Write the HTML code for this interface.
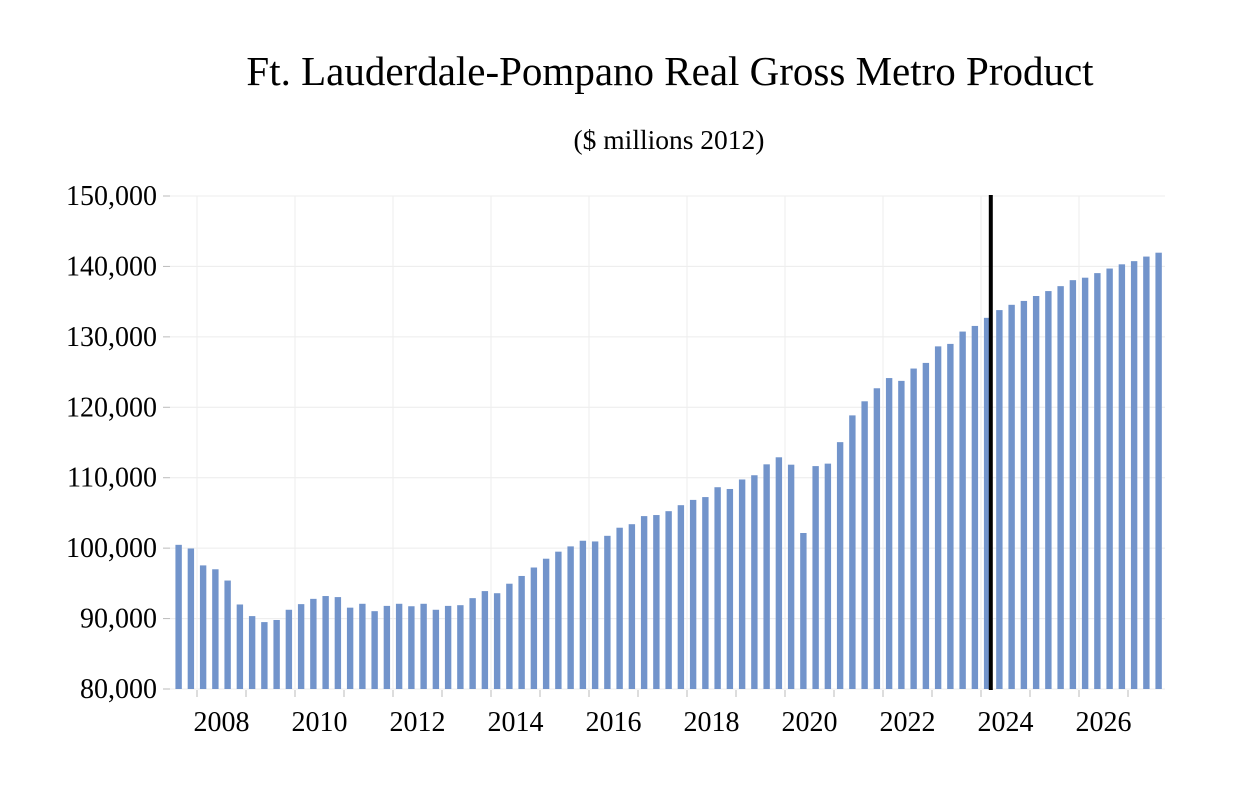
<!DOCTYPE html>
<html><head><meta charset="utf-8"><style>
body{margin:0;background:#fff;}
svg text{font-family:"Liberation Serif",serif;fill:#000;}
</style></head><body>
<svg id="chart" width="1250" height="790" xmlns="http://www.w3.org/2000/svg">
<text x="670" y="85" font-size="41" text-anchor="middle">Ft. Lauderdale-Pompano Real Gross Metro Product</text>
<text x="669" y="149" font-size="27.5" text-anchor="middle">($ millions 2012)</text>
<g id="grid"></g><g id="bars"></g><g id="axes"></g>
</svg>
<script>
const startYear = 2007.5; // first bar = 2007 Q3
const values = [100470,99950,97550,97000,95400,92000,90350,89500,89800,91250,92050,92800,93200,93050,91550,92100,91050,91800,92100,91750,92100,91250,91800,91900,92900,93900,93600,94950,96050,97250,98500,99500,100250,101050,100950,101750,102900,103400,104550,104700,105250,106100,106850,107250,108650,108400,109750,110350,111900,112900,111850,102150,111650,112000,115050,118850,120850,122700,124150,123750,125500,126300,128650,129000,130750,131550,132700,133800,134550,135100,135800,136500,137200,138050,138400,139050,139700,140300,140750,141400,141950];
const yTicks = [80000,90000,100000,110000,120000,130000,140000,150000];
const xLabels = [2008,2010,2012,2014,2016,2018,2020,2022,2024,2026];
const forecastStart = 2024.2;
const NS="http://www.w3.org/2000/svg";
const x0=172.5, xEnd=1164.75, t0=2007.5, t1=2027.75;
const xs=t=>x0+(t-t0)*(xEnd-x0)/(t1-t0);
const ys=v=>689-(v-80000)*(689-196)/70000;
function mk(tag,attrs,parent){const e=document.createElementNS(NS,tag);for(const k in attrs)e.setAttribute(k,attrs[k]);document.getElementById(parent).appendChild(e);return e;}
yTicks.forEach(v=>{
  const g=mk('line',{x1:170,x2:1165,y1:ys(v),y2:ys(v),stroke:'#ececec','stroke-width':1},'grid');
  
  
  const tk=mk('line',{x1:163,x2:170,y1:ys(v),y2:ys(v),stroke:'#bbb','stroke-width':1},'axes');
  
  
  const t=mk('text',{x:157,y:ys(v)+9,'font-size':28,'text-anchor':'end'},'axes');
  t.textContent=v.toLocaleString('en-US');
  
  
});
for(let yr=2008;yr<=2027;yr++){
  if(yr%2===0){
    const g=mk('line',{x1:xs(yr),x2:xs(yr),y1:196,y2:689,stroke:'#eeeeee','stroke-width':1},'grid');
    
    
  }
  const tk=mk('line',{x1:xs(yr),x2:xs(yr),y1:690,y2:697,stroke:'#bbb','stroke-width':1},'axes');
  
  
}
xLabels.forEach(yr=>{
  const t=mk('text',{x:xs(yr+0.5),y:731,'font-size':28,'text-anchor':'middle'},'axes');
  t.textContent=yr;
  
  
});
values.forEach((v,i)=>{
  const c=xs(startYear+i*0.25+0.125);
  const r=mk('rect',{x:c-3.2,y:ys(v),width:6.4,height:689-ys(v),fill:'#7294cb'},'bars');
  
  
});
const fl=mk('line',{x1:xs(forecastStart),x2:xs(forecastStart),y1:195,y2:690,stroke:'#000','stroke-width':4},'axes');


</script>
</body></html>
